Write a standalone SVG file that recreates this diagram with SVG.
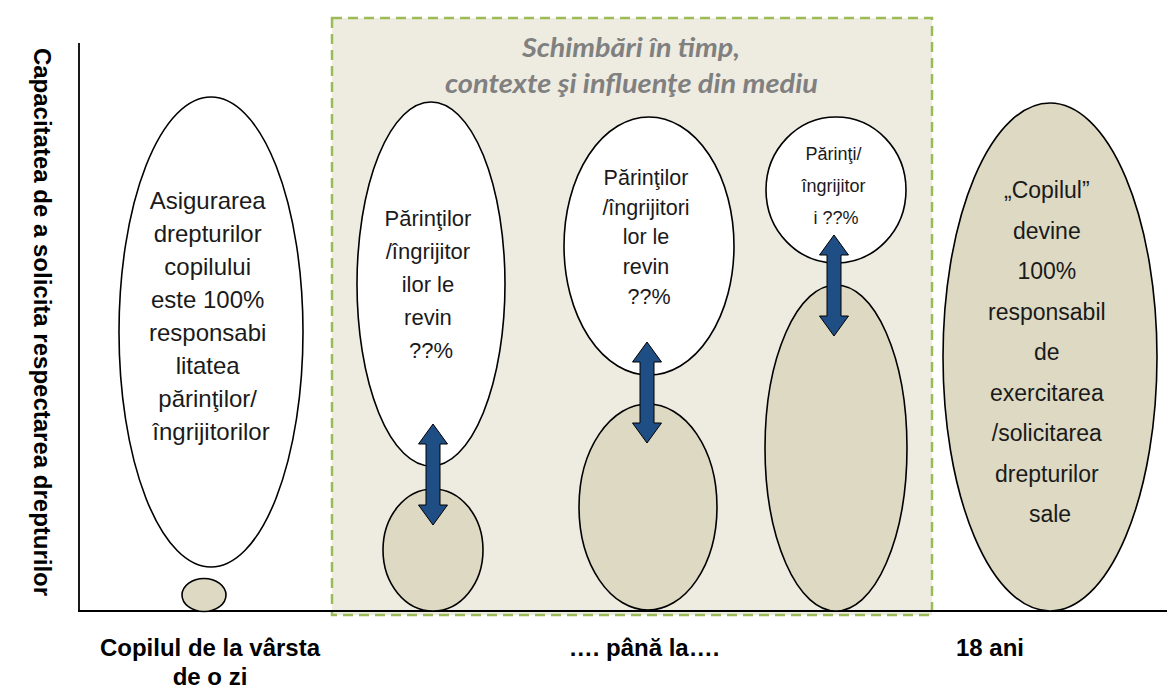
<svg xmlns="http://www.w3.org/2000/svg" xmlns:xlink="http://www.w3.org/1999/xlink" width="1167" height="690" viewBox="0 0 1167 690">
<style>
.bg{fill:#ffffff}
.zone{fill:#eeece1;stroke:#9bbb59;stroke-width:2.5;stroke-dasharray:10 6}
.axis{stroke:#000;stroke-width:1.8;fill:none}
.white{fill:#ffffff;stroke:#000;stroke-width:1.6}
.tan{fill:#ddd9c3;stroke:#000;stroke-width:1.6}
.arrow{fill:#1f4e85;stroke:#000;stroke-width:1}
.title{font-family:Lato,"Open Sans",sans-serif;font-weight:bold;font-style:italic;font-size:27px;fill:#808080;text-anchor:middle}
.lbl{font-family:"Liberation Sans",Arial,sans-serif;fill:#1a1a1a;text-anchor:middle}
.bold{font-family:"Liberation Sans",Arial,sans-serif;font-weight:bold;font-size:24px;fill:#000;text-anchor:middle}
</style>
<defs>
<path id="arr" d="M0,0 L14.5,20 L7,20 L7,81 L14.5,81 L0,101 L-14.5,81 L-7,81 L-7,20 L-14.5,20 Z"/>
</defs>
<rect class="bg" x="0" y="0" width="1167" height="690"/>
<g id="zone">
<rect class="zone" x="332" y="18" width="600" height="597"/>
<text class="title" x="631" y="57" textLength="218" lengthAdjust="spacingAndGlyphs">Schimbări în timp,</text>
<text class="title" x="631.5" y="93" textLength="373" lengthAdjust="spacingAndGlyphs">contexte şi influenţe din mediu</text>
</g>
<g id="axes">
<line class="axis" x1="79" y1="43" x2="79" y2="612"/>
<line class="axis" x1="78" y1="611" x2="1167" y2="611"/>
<text class="bold" transform="translate(34,322) rotate(90)" x="0" y="0">Capacitatea de a solicita respectarea drepturilor</text>
</g>
<g id="node-birth">
<ellipse class="white" cx="211" cy="332" rx="92" ry="235"/>
<text class="lbl" font-size="24">
<tspan x="211" y="209">Asigurarea</tspan>
<tspan x="211" y="242">drepturilor</tspan>
<tspan x="211" y="275">copilului</tspan>
<tspan x="211" y="308">este 100%</tspan>
<tspan x="211" y="341">responsabi</tspan>
<tspan x="211" y="374">litatea</tspan>
<tspan x="211" y="407">părinţilor/</tspan>
<tspan x="211" y="440">îngrijitorilor</tspan>
</text>
<ellipse class="tan" cx="204" cy="595" rx="22" ry="16.5"/>
</g>
<g id="node-stage1">
<ellipse class="white" cx="431" cy="284" rx="74" ry="182"/>
<text class="lbl" font-size="22">
<tspan x="431" y="226">Părinţilor</tspan>
<tspan x="431" y="259">/îngrijitor</tspan>
<tspan x="431" y="292">ilor le</tspan>
<tspan x="431" y="325">revin</tspan>
<tspan x="431" y="358">??%</tspan>
</text>
<ellipse class="tan" cx="433" cy="550" rx="50" ry="61"/>
</g>
<g id="node-stage2">
<ellipse class="white" cx="649" cy="246" rx="85" ry="129"/>
<text class="lbl" font-size="21.5">
<tspan x="649" y="185">Părinţilor</tspan>
<tspan x="649" y="215">/îngrijitori</tspan>
<tspan x="649" y="244">lor le</tspan>
<tspan x="649" y="274">revin</tspan>
<tspan x="649" y="304">??%</tspan>
</text>
<ellipse class="tan" cx="648" cy="507" rx="69" ry="103"/>
</g>
<g id="node-stage3">
<ellipse class="tan" cx="836" cy="448" rx="71" ry="163"/>
<ellipse class="white" cx="836" cy="190" rx="70" ry="73"/>
<text class="lbl" font-size="18">
<tspan x="836" y="160">Părinţi/</tspan>
<tspan x="836" y="192">îngrijitor</tspan>
<tspan x="836" y="224">i ??%</tspan>
</text>
</g>
<g id="node-adult">
<ellipse class="tan" cx="1050" cy="357" rx="107" ry="254"/>
<text class="lbl" font-size="23">
<tspan x="1050" y="198">„Copilul”</tspan>
<tspan x="1050" y="238.5">devine</tspan>
<tspan x="1050" y="279">100%</tspan>
<tspan x="1050" y="319.5">responsabil</tspan>
<tspan x="1050" y="360">de</tspan>
<tspan x="1050" y="400.5">exercitarea</tspan>
<tspan x="1050" y="441">/solicitarea</tspan>
<tspan x="1050" y="481.5">drepturilor</tspan>
<tspan x="1050" y="522">sale</tspan>
</text>
</g>
<g id="connectors">
<use xlink:href="#arr" href="#arr" class="arrow" x="433" y="424"/>
<use xlink:href="#arr" href="#arr" class="arrow" x="647" y="342"/>
<use xlink:href="#arr" href="#arr" class="arrow" x="834" y="235"/>
</g>
<g id="xlabels">
<text class="bold" x="210" y="656">Copilul de la vârsta</text>
<text class="bold" x="210" y="685">de o zi</text>
<text class="bold" x="644" y="656">…. până la….</text>
<text class="bold" x="990" y="656">18 ani</text>
</g>
</svg>
